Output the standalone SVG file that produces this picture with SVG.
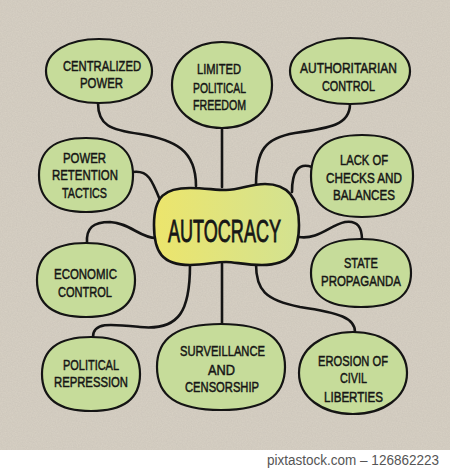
<svg xmlns="http://www.w3.org/2000/svg" width="450" height="469" viewBox="0 0 450 469">
<defs>
<linearGradient id="yel" x1="0" y1="0" x2="1" y2="0">
<stop offset="0" stop-color="#ece56c"/>
<stop offset="1" stop-color="#d3e291"/>
</linearGradient>
<filter id="paper" x="0" y="0" width="1" height="1">
<feTurbulence type="fractalNoise" baseFrequency="0.8" numOctaves="2" seed="3" result="n"/>
<feColorMatrix in="n" type="matrix" values="0 0 0 0 0.45  0 0 0 0 0.42  0 0 0 0 0.38  0 0 0 0.35 0" result="c"/>
<feComposite in="c" in2="SourceGraphic" operator="in" result="m"/>
<feMerge><feMergeNode in="SourceGraphic"/><feMergeNode in="m"/></feMerge>
</filter>
</defs>
<style>
.bg{fill:#d8d1c5}
.node{fill:#c6dc9a;stroke:#141414;stroke-width:2.2}
.hub{fill:url(#yel);stroke:#141414;stroke-width:2.6}
.lbl{font-family:"Liberation Sans",Arial,sans-serif;font-size:15px;fill:#161616;stroke:#161616;stroke-width:0.5;text-anchor:middle}
.big{font-size:32px;stroke-width:0.9}
#connectors path{fill:none;stroke:#141414;stroke-width:2.6;stroke-linecap:round}
.credit{font-family:"Liberation Sans",Arial,sans-serif;font-size:14px;fill:#555}
</style>
<rect class="bg" x="0" y="0" width="450" height="450" filter="url(#paper)"/>
<rect x="0" y="450" width="450" height="19" fill="#ffffff"/>
<text class="credit" x="439" y="465" text-anchor="end" textLength="172" lengthAdjust="spacingAndGlyphs">pixtastock.com – 126862223</text>

<g id="connectors">
<path d="M98,103 C98,125 110,130 140,134 C175,140 196,150 196,186"/>
<path d="M222,128 L222,187"/>
<path d="M350,104 C350,125 330,128 295,133 C265,138 256,150 256,186"/>
<path d="M133,172 C148,170 152,180 160,200"/>
<path d="M312,167 C298,162 292,172 292,192"/>
<path d="M87,243 C86,228 93,222 110,222 C130,223 140,238 156,238"/>
<path d="M299,237 C318,240 330,225 345,222 C358,220 362,228 362,240"/>
<path d="M93,337 C93,322 110,324 140,327 C180,331 190,310 190,265"/>
<path d="M222,264 L222,324"/>
<path d="M355,332 C355,318 340,313 300,307 C265,300 256,290 256,264"/>
</g>

<g id="autocracy">
<path class="hub" d="M154,225 C154,196 165,188 190,188 C205,188 215,190 226,190 C240,190 250,184 265,184 C290,184 299,200 299,225 C299,252 290,265 262,265 C245,265 235,262 226,262 C215,262 205,265 190,265 C162,265 154,252 154,225Z"/>
<text class="lbl big" x="224.5" y="242" textLength="113" lengthAdjust="spacingAndGlyphs">AUTOCRACY</text>
</g>

<g id="centralized-power">
<path class="node" d="M46,71 C46,52 68,39 99,39 C130,39 152,52 152,71 C152,90 130,103 99,103 C68,103 46,90 46,71Z"/>
<text class="lbl" x="102" y="71" textLength="78" lengthAdjust="spacingAndGlyphs">CENTRALIZED</text>
<text class="lbl" x="101.5" y="88" textLength="43" lengthAdjust="spacingAndGlyphs">POWER</text>
</g>

<g id="limited-political-freedom">
<path class="node" d="M172,85 C172,60 193,42 222,42 C251,42 272,60 272,85 C272,110 251,128 222,128 C193,128 172,110 172,85Z"/>
<text class="lbl" x="219" y="74" textLength="44" lengthAdjust="spacingAndGlyphs">LIMITED</text>
<text class="lbl" x="219.5" y="93" textLength="53" lengthAdjust="spacingAndGlyphs">POLITICAL</text>
<text class="lbl" x="219.5" y="110" textLength="53" lengthAdjust="spacingAndGlyphs">FREEDOM</text>
</g>

<g id="authoritarian-control">
<path class="node" d="M290,71 C290,52 315,38 350,38 C385,38 410,52 410,71 C410,90 385,104 350,104 C315,104 290,90 290,71Z"/>
<text class="lbl" x="348.5" y="73" textLength="97" lengthAdjust="spacingAndGlyphs">AUTHORITARIAN</text>
<text class="lbl" x="348.5" y="91" textLength="53" lengthAdjust="spacingAndGlyphs">CONTROL</text>
</g>

<g id="power-retention-tactics">
<path class="node" d="M39,175 C39,150 54,138 86,138 C118,138 133,150 133,175 C133,200 118,212 86,212 C54,212 39,200 39,175Z"/>
<text class="lbl" x="84.5" y="163" textLength="43" lengthAdjust="spacingAndGlyphs">POWER</text>
<text class="lbl" x="85" y="180" textLength="66" lengthAdjust="spacingAndGlyphs">RETENTION</text>
<text class="lbl" x="84.5" y="198" textLength="45" lengthAdjust="spacingAndGlyphs">TACTICS</text>
</g>

<g id="lack-of-checks-and-balances">
<path class="node" d="M311,176 C311,148 327,135 362,135 C397,135 413,148 413,176 C413,204 397,217 362,217 C327,217 311,204 311,176Z"/>
<text class="lbl" x="364" y="165" textLength="48" lengthAdjust="spacingAndGlyphs">LACK OF</text>
<text class="lbl" x="364" y="183" textLength="76" lengthAdjust="spacingAndGlyphs">CHECKS AND</text>
<text class="lbl" x="364" y="200" textLength="62" lengthAdjust="spacingAndGlyphs">BALANCES</text>
</g>

<g id="economic-control">
<path class="node" d="M37,280 C37,255 53,243 86,243 C119,243 135,255 135,280 C135,305 119,317 86,317 C53,317 37,305 37,280Z"/>
<text class="lbl" x="85.5" y="279" textLength="63" lengthAdjust="spacingAndGlyphs">ECONOMIC</text>
<text class="lbl" x="85" y="297" textLength="54" lengthAdjust="spacingAndGlyphs">CONTROL</text>
</g>

<g id="state-propaganda">
<path class="node" d="M311,273 C311,250 327,239 361,239 C395,239 411,250 411,273 C411,296 395,307 361,307 C327,307 311,296 311,273Z"/>
<text class="lbl" x="361" y="268" textLength="34" lengthAdjust="spacingAndGlyphs">STATE</text>
<text class="lbl" x="361" y="286" textLength="80" lengthAdjust="spacingAndGlyphs">PROPAGANDA</text>
</g>

<g id="political-repression">
<path class="node" d="M42,374 C42,349 58,337 91,337 C124,337 140,349 140,374 C140,399 124,411 91,411 C58,411 42,399 42,374Z"/>
<text class="lbl" x="91" y="370" textLength="56" lengthAdjust="spacingAndGlyphs">POLITICAL</text>
<text class="lbl" x="91" y="387" textLength="74" lengthAdjust="spacingAndGlyphs">REPRESSION</text>
</g>

<g id="surveillance-and-censorship">
<path class="node" d="M157,367 C157,338 177,324 221,324 C265,324 285,338 285,367 C285,396 265,410 221,410 C177,410 157,396 157,367Z"/>
<text class="lbl" x="222.5" y="356" textLength="85" lengthAdjust="spacingAndGlyphs">SURVEILLANCE</text>
<text class="lbl" x="221.5" y="375" textLength="27" lengthAdjust="spacingAndGlyphs">AND</text>
<text class="lbl" x="222" y="392" textLength="74" lengthAdjust="spacingAndGlyphs">CENSORSHIP</text>
</g>

<g id="erosion-of-civil-liberties">
<path class="node" d="M299,373 C299,349 322,332 353,332 C384,332 407,349 407,373 C407,397 384,414 353,414 C322,414 299,397 299,373Z"/>
<text class="lbl" x="353" y="366" textLength="70" lengthAdjust="spacingAndGlyphs">EROSION OF</text>
<text class="lbl" x="353.5" y="383" textLength="27" lengthAdjust="spacingAndGlyphs">CIVIL</text>
<text class="lbl" x="353.5" y="402" textLength="59" lengthAdjust="spacingAndGlyphs">LIBERTIES</text>
</g>
</svg>
